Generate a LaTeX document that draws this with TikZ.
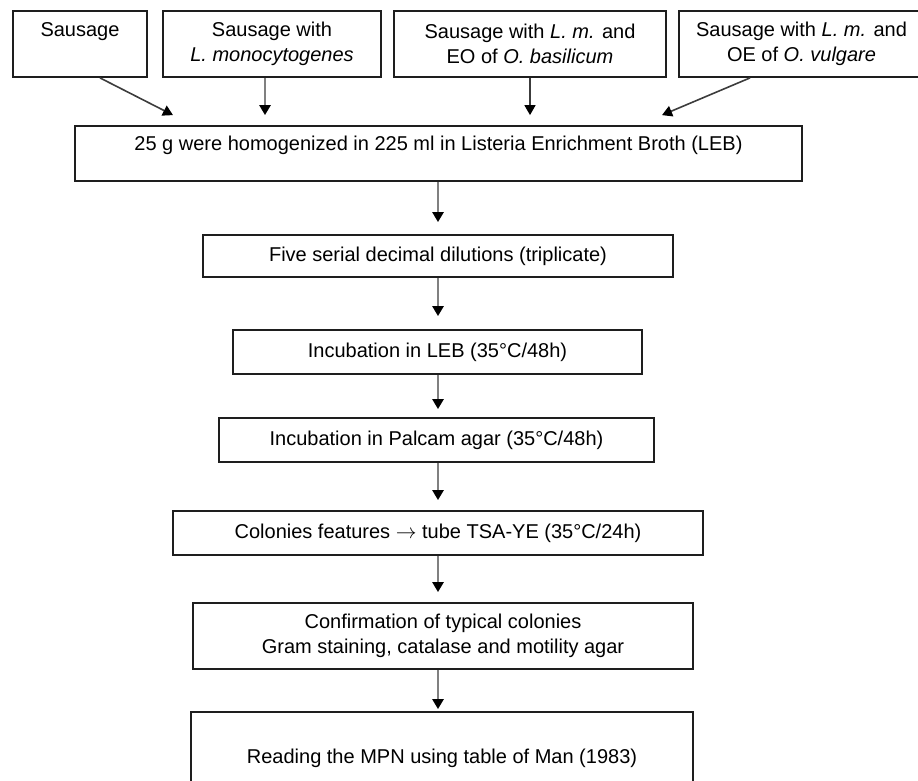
\documentclass[tikz,border=0pt]{standalone}
\usepackage{fontspec}
\setmainfont{Liberation Sans}
\usetikzlibrary{arrows.meta}
\definecolor{boxc}{RGB}{30,30,30}
\definecolor{arrc}{RGB}{128,128,128}
\definecolor{darrc}{RGB}{60,60,60}
\begin{document}
\begin{tikzpicture}[x=1pt,y=-1pt,
  box/.style={draw=boxc, line width=1.8pt, rectangle, inner sep=0pt, align=center,
    text=black, font=\fontsize{20}{25}\selectfont},
  arr/.style={draw=arrc, line width=2.6pt, -{Triangle[color=black,length=10pt,width=11pt]}},
  darr/.style={draw=darrc, line width=1.6pt, -{Triangle[color=black,length=10pt,width=11pt]}}]
\useasboundingbox (0,0) rectangle (918,780);
\node[box, minimum width=134pt, minimum height=66pt] (s1) at (80,44)
  {Sausage\\\vphantom{L. monocytogenes}};
\node[box, minimum width=218pt, minimum height=66pt] (s2) at (272,44)
  {Sausage with\\\textit{L. monocytogenes}};
\node[box, minimum width=272pt, minimum height=66pt] (s3) at (530,44)
  {Sausage with \textit{L. m.} and\\EO of \textit{O. basilicum}};
\node[box, minimum width=245pt, minimum height=66pt] (s4) at (801.5,44)
  {Sausage with \textit{L. m.} and\\OE of \textit{O. vulgare}};
\node[box, minimum width=727pt, minimum height=55pt] (big) at (438.5,153.5)
  {25 g were homogenized in 225 ml in Listeria Enrichment Broth (LEB)\\[-4pt]\mbox{}};
\node[box, minimum width=470pt, minimum height=42pt, text height=14pt, text depth=4pt] (five) at (438,256)
  {Five serial decimal dilutions (triplicate)};
\node[box, minimum width=409pt, minimum height=44pt, text height=14pt, text depth=4pt] (leb) at (437.5,352)
  {Incubation in LEB (35°C/48h)};
\node[box, minimum width=435pt, minimum height=44pt, text height=14pt, text depth=4pt] (pal) at (436.5,440)
  {Incubation in Palcam agar (35°C/48h)};
\node[box, minimum width=530pt, minimum height=44pt, text height=14pt, text depth=4pt] (col) at (438,533)
  {Colonies features $\rightarrow$ tube TSA-YE (35°C/24h)};
\node[box, minimum width=500pt, minimum height=66pt] (conf) at (443,636)
  {Confirmation of typical colonies\\Gram staining, catalase and motility agar};
\node[box, minimum width=502pt, minimum height=93pt, text height=14pt, text depth=4pt] (read) at (442,758.5)
  {Reading the MPN using table of Man (1983)};
% connectors
\draw[darr] ([xshift=20pt]s1.south) -- ([xshift=-265.5pt,yshift=10pt]big.north);
\draw[arr] ([xshift=-7pt]s2.south) -- ([xshift=-173.5pt,yshift=10pt]big.north);
\draw[darr] (s3.south) -- ([xshift=91.5pt,yshift=10pt]big.north);
\draw[darr] ([xshift=-51.5pt]s4.south) -- ([xshift=223.5pt,yshift=10pt]big.north);
\draw[arr] ([xshift=-0.5pt]big.south) -- ([yshift=12pt]five.north);
\draw[arr] (five.south) -- ([xshift=0.5pt,yshift=13pt]leb.north);
\draw[arr] ([xshift=0.5pt]leb.south) -- ([xshift=1.5pt,yshift=8pt]pal.north);
\draw[arr] ([xshift=1.5pt]pal.south) -- ([yshift=10pt]col.north);
\draw[arr] (col.south) -- ([xshift=-5pt,yshift=10pt]conf.north);
\draw[arr] ([xshift=-5pt]conf.south) -- ([xshift=-4pt,yshift=2pt]read.north);
\end{tikzpicture}
\end{document}
